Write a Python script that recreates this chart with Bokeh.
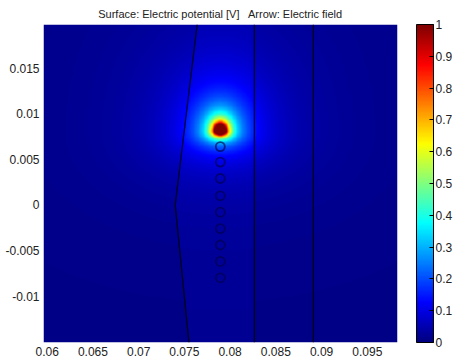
import numpy as np
from bokeh.plotting import figure
from bokeh.models import LinearColorMapper, ColorBar, FixedTicker, Range1d, CustomJSTickFormatter
from bokeh.embed import file_html
from bokeh.resources import INLINE

# ---- data ----
x_limits = [0.0596, 0.0983]
y_limits = [-0.0151, 0.0198]
x_ticks = [0.06, 0.065, 0.07, 0.075, 0.08, 0.085, 0.09, 0.095]
y_ticks = [-0.01, -0.005, 0.0, 0.005, 0.01, 0.015]
cbar_ticks = [0.0, 0.1, 0.2, 0.3, 0.4, 0.5, 0.6, 0.7, 0.8, 0.9, 1.0]

source_x = 0.07893
source_y = 0.0081
source_core = 0.00066      # radius where potential reaches 1 V
source_decay = 0.0115      # decay length
up_scale = 0.8
down_scale = 1.6
background_level = 0.01
band_level = 0.022

probe_x = [0.07893] * 9
probe_y = [0.0064, 0.0047, 0.0029, 0.0010, -0.0008, -0.0026, -0.0044, -0.0062, -0.0080]

boundary_x = [0.0764, 0.0740, 0.0755]
boundary_y = [0.0198, 0.0, -0.0151]
wall_x = [0.08265, 0.0891]

title_text = "Surface: Electric potential [V] \u00a0 Arrow: Electric field"

# ---- jet palette ----
def jet(n=256):
    cols = []
    for i in range(n):
        t = i / (n - 1)
        r = min(max(1.5 - abs(4 * t - 3), 0), 1)
        g = min(max(1.5 - abs(4 * t - 2), 0), 1)
        b = min(max(1.5 - abs(4 * t - 1), 0), 1)
        cols.append("#%02x%02x%02x" % (int(r * 255), int(g * 255), int(b * 255)))
    return cols

palette = jet()

# ---- surface ----
xs = np.linspace(x_limits[0], x_limits[1], 430)
ys = np.linspace(y_limits[0], y_limits[1], 390)
X, Y = np.meshgrid(xs, ys)
dx = X - source_x
dy = Y - source_y
dy_eff = np.where(dy > 0, dy * up_scale, dy * down_scale)
r = np.maximum(np.hypot(dx, dy_eff), 1e-9)
V = np.clip(source_core / r * np.exp(-(r - source_core) / source_decay), 0, 1)
bx = np.interp(Y, boundary_y[::-1], boundary_x[::-1])
band = (X > bx) & (X < wall_x[0])
V = np.clip(V + np.where(band, band_level, background_level), 0, 1)

mapper = LinearColorMapper(palette=palette, low=0, high=1)

p = figure(width=456, height=360, output_backend="svg", toolbar_location=None,
           x_range=Range1d(*x_limits), y_range=Range1d(*y_limits),
           min_border_left=43, min_border_right=59, min_border_top=24, min_border_bottom=18)
p.image(image=[V], x=x_limits[0], y=y_limits[0], dw=x_limits[1] - x_limits[0],
        dh=y_limits[1] - y_limits[0], color_mapper=mapper)

p.line(boundary_x, boundary_y, line_color="black", line_width=1.3, line_alpha=0.8)
p.segment(x0=wall_x, y0=[y_limits[0]] * len(wall_x), x1=wall_x, y1=[y_limits[1]] * len(wall_x),
          line_color="black", line_width=1.3, line_alpha=0.8)
p.scatter(probe_x, probe_y, size=9, fill_color=None, line_color="#00004a",
          line_width=1.8, line_alpha=0.65)

fmt = CustomJSTickFormatter(code="return String(parseFloat(tick.toFixed(6)));")

p.xaxis.ticker = FixedTicker(ticks=x_ticks)
p.yaxis.ticker = FixedTicker(ticks=y_ticks)
for ax in (p.xaxis, p.yaxis):
    ax.formatter = fmt
    ax.major_tick_in = 0
    ax.major_tick_out = 0
    ax.minor_tick_in = 0
    ax.minor_tick_out = 0
    ax.axis_line_color = None
    ax.major_label_text_font = "Liberation Sans"
    ax.major_label_text_font_size = "12px"
    ax.major_label_text_color = "#222222"
p.xaxis.major_label_standoff = 4
p.yaxis.major_label_standoff = 4
p.grid.visible = False
p.outline_line_color = None

p.title.text = title_text
p.title.align = "center"
p.title.text_font = "Liberation Sans"
p.title.text_font_size = "11px"
p.title.text_font_style = "normal"
p.title.text_color = "#222222"
p.title.standoff = 10

cb = ColorBar(color_mapper=mapper, ticker=FixedTicker(ticks=cbar_ticks), formatter=fmt,
              width=17, height=318, padding=0, margin=0, location=(19, 0),
              major_tick_in=4, major_tick_out=0, major_tick_line_color="black",
              major_label_text_font="Liberation Sans", major_label_text_font_size="12px",
              major_label_text_color="#222222", label_standoff=2,
              bar_line_color="black", border_line_color=None, background_fill_color=None)
p.add_layout(cb, "right")

open("out.html", "w").write(file_html(p, INLINE))
